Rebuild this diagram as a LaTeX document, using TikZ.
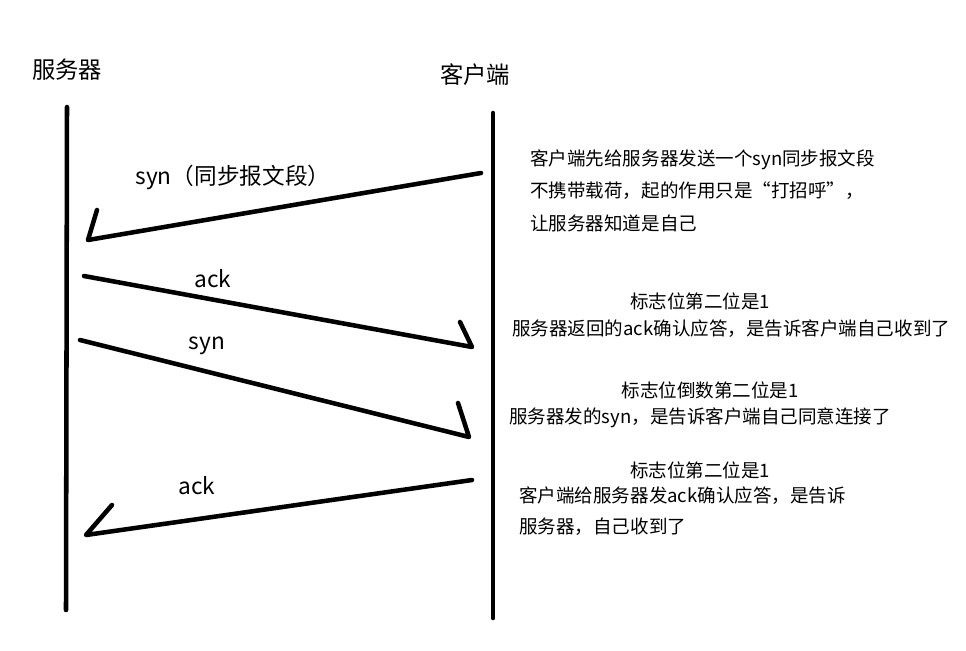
\documentclass[tikz,border=0pt]{standalone}
\usepackage{fontspec}
\setmainfont{Noto Sans CJK SC}

\begin{document}
\begin{tikzpicture}[x=0.75pt,y=-0.75pt,
  life/.style={line width=3.4pt,line cap=round},
  msg/.style={line width=3.4pt,line cap=round,line join=round},
  ttl/.style={font=\fontsize{17.5}{21}\selectfont},
  lbl/.style={font=\fontsize{17}{21}\selectfont},
  note/.style={font=\fontsize{13.9}{17}\selectfont,inner sep=0pt}]
\useasboundingbox (0,0) rectangle (966,650);
% lifelines
\coordinate (srvtop) at (67,107);
\coordinate (srvbot) at (66,610);
\coordinate (clitop) at (493,113);
\coordinate (clibot) at (493,618);
\draw[life] (srvtop) -- (srvbot);
\draw[life] (clitop) -- (clibot);
\node[ttl] (srv) at (67,70) {服务器};
\node[ttl] (cli) at (475,75) {客户端};
% messages
\coordinate (m1a) at (481,173);
\coordinate (m1b) at (88,240);
\coordinate (m1c) at (97,210);
\coordinate (m2a) at (84,276);
\coordinate (m2b) at (472,347);
\coordinate (m2c) at (460,322);
\coordinate (m3a) at (80,340);
\coordinate (m3b) at (469,437);
\coordinate (m3c) at (458,403);
\coordinate (m4a) at (472,480);
\coordinate (m4b) at (86,535);
\coordinate (m4c) at (112,505);
\draw[msg] (m1a) -- (m1b) -- (m1c);
\draw[msg] (m2a) -- (m2b) -- (m2c);
\draw[msg] (m3a) -- (m3b) -- (m3c);
\draw[msg] (m4a) -- (m4b) -- (m4c);
\node[lbl] (l1) at (233,177) {syn（同步报文段）};
\node[lbl] (l2) at (213,279) {ack};
\node[lbl] (l3) at (207,346) {syn};
\node[lbl] (l4) at (197,486) {ack};
% notes
\node[note,anchor=west] (n1a) at (530,160) {客户端先给服务器发送一个syn同步报文段};
\node[note,anchor=west] (n1b) at (530,191) {不携带载荷，起的作用只是“打招呼”，};
\node[note,anchor=west] (n1c) at (530,223) {让服务器知道是自己};
\node[note] (n2a) at (700,301) {标志位第二位是1};
\node[note,anchor=west] (n2b) at (512,329) {服务器返回的ack确认应答，是告诉客户端自己收到了};
\node[note] (n3a) at (710,390) {标志位倒数第二位是1};
\node[note,anchor=west] (n3b) at (509,418) {服务器发的syn，是告诉客户端自己同意连接了};
\node[note] (n4a) at (700,470) {标志位第二位是1};
\node[note,anchor=west] (n4b) at (519,496) {客户端给服务器发ack确认应答，是告诉};
\node[note,anchor=west] (n4c) at (519,527) {服务器，自己收到了};
\end{tikzpicture}
\end{document}
